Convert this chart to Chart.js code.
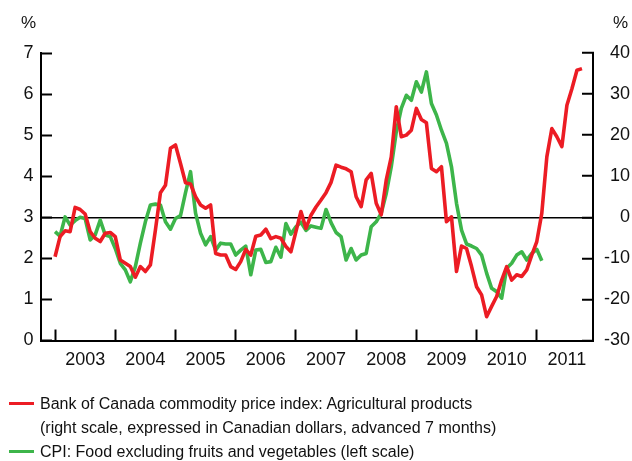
<!DOCTYPE html>
<html>
<head>
<meta charset="utf-8">
<script src="https://cdn.jsdelivr.net/npm/chart.js@4.4.1/dist/chart.umd.min.js"></script>
<style>
  body { margin: 0; background: #fff; font-family: "Liberation Sans", Arial, sans-serif; color: #111; }
  #caixa { position: relative; width: 632px; height: 461px; overflow: hidden; }
  #grafico { position: absolute; left: 0; top: 0; }
  .pct { position: absolute; font-size: 17px; line-height: 1; }
  .leg { position: absolute; left: 40px; font-size: 16px; line-height: 24px; white-space: nowrap; }
  .traco { position: absolute; left: 9px; width: 25px; height: 3px; }
</style>
</head>
<body>
<div id="caixa">
  <canvas id="grafico" width="632" height="394"></canvas>
  <span class="pct" style="left:21px; top:14px;">%</span>
  <span class="pct" style="left:613px; top:14px;">%</span>
  <div class="traco" style="top:402px; background:#ec1c24;"></div>
  <div class="leg" style="top:392px;">Bank of Canada commodity price index: Agricultural products<br>(right scale, expressed in Canadian dollars, advanced 7 months)</div>
  <div class="traco" style="top:450px; background:#3db54a;"></div>
  <div class="leg" style="top:440px;">CPI: Food excluding fruits and vegetables (left scale)</div>
</div>
<script>
// months counted from Jan 2003 (index 0)
const anos = ["2003", "2004", "2005", "2006", "2007", "2008", "2009", "2010", "2011"];

// Agricultural commodity price index, % (right scale), advanced 7 months
const indiceAgricola = [
  -9.6, -4.7, -3.3, -3.5, 2.4, 1.9, 0.8, -3.5, -5.1, -5.9, -3.9, -3.7,
  -4.7, -10.4, -11.2, -12.0, -14.6, -12.0, -13.2, -11.6, -3.1, 6.0, 7.8, 16.8,
  17.6, 13.1, 8.4, 8.1, 5.0, 3.0, 2.2, 3.0, -8.8, -9.2, -9.2, -12.0,
  -12.7, -10.8, -7.8, -9.2, -4.6, -4.3, -2.9, -5.2, -4.7, -5.1, -7.1, -8.4,
  -3.5, 1.4, -2.7, 0.5, 2.5, 4.2, 6.0, 8.5, 12.7, 12.2, 11.8, 11.1,
  5.0, 2.6, 9.1, 10.7, 3.4, 0.6, 9.1, 14.7, 26.9, 19.6, 20.0, 21.2,
  26.5, 23.8, 23.0, 11.9, 11.1, 12.3, -1.1, 0.1, -13.2, -7.0, -7.6, -12.0,
  -16.9, -18.9, -24.2, -21.7, -19.3, -15.3, -12.0, -15.3, -14.0, -14.4, -12.8, -9.2,
  -5.9, 1.0, 14.7, 21.6, 19.6, 17.2, 27.3, 31.3, 35.8, 36.2
];

// CPI food excluding fruits and vegetables, % (left scale)
const ipcAlimentos = [
  2.65, 2.54, 3.01, 2.81, 2.92, 3.0, 2.97, 2.45, 2.57, 2.93, 2.57, 2.53,
  2.24, 1.88, 1.72, 1.43, 1.80, 2.37, 2.89, 3.30, 3.32, 3.30, 2.89, 2.71,
  2.97, 3.04, 3.60, 4.11, 3.10, 2.61, 2.33, 2.53, 2.20, 2.37, 2.35, 2.35,
  2.08, 2.20, 2.30, 1.60, 2.20, 2.22, 1.90, 1.92, 2.27, 2.03, 2.85, 2.59,
  2.77, 2.88, 2.68, 2.79, 2.76, 2.73, 3.19, 2.87, 2.63, 2.53, 1.96, 2.24,
  1.96, 2.08, 2.12, 2.77, 2.89, 3.10, 3.58, 4.23, 5.08, 5.65, 5.97, 5.85,
  6.30, 6.05, 6.54, 5.77, 5.49, 5.12, 4.80, 4.23, 3.34, 2.69, 2.35, 2.30,
  2.24, 2.08, 1.64, 1.27, 1.19, 1.03, 1.76, 1.88, 2.08, 2.16, 1.96, 2.12,
  2.22, 1.94
];

const pontos = arr => arr.map((v, i) => ({ x: i, y: v }));
const fonteEixo = { family: "'Liberation Sans', Arial, sans-serif", size: 18 };

new Chart(document.getElementById("grafico").getContext("2d"), {
  type: "line",
  data: {
    datasets: [
      {
        label: "Bank of Canada commodity price index: Agricultural products",
        data: pontos(indiceAgricola),
        yAxisID: "yDir",
        borderColor: "#ec1c24",
        borderWidth: 3.6,
        pointRadius: 0,
        borderJoinStyle: "round",
        tension: 0
      },
      {
        label: "CPI: Food excluding fruits and vegetables",
        data: pontos(ipcAlimentos),
        yAxisID: "yEsq",
        borderColor: "#3db54a",
        borderWidth: 3.6,
        pointRadius: 0,
        borderJoinStyle: "round",
        tension: 0
      }
    ]
  },
  options: {
    responsive: false,
    animation: false,
    events: [],
    layout: { padding: { top: 53, left: 4, right: 2, bottom: 2 } },
    plugins: { legend: { display: false }, tooltip: { enabled: false } },
    scales: {
      x: {
        type: "linear",
        min: -2.8,
        max: 107.2,
        afterBuildTicks: escala => {
          const t = [];
          for (let k = 0; k < anos.length; k++) {
            t.push({ value: 12 * k });
            t.push({ value: 12 * k + 6 });
          }
          escala.ticks = t;
        },
        afterFit: escala => { escala.height = 51.5; },
        ticks: {
          autoSkip: false,
          maxRotation: 0,
          padding: 19.5,
          color: "#111",
          font: fonteEixo,
          callback: v => (v % 12 === 6 ? anos[(v - 6) / 12] : "")
        },
        grid: {
          drawOnChartArea: false,
          tickLength: -11,
          tickWidth: 2,
          tickColor: c => (c.tick && c.tick.value % 12 === 0 ? "#000" : "rgba(0,0,0,0)")
        },
        border: { color: "#000", width: 2 }
      },
      yEsq: {
        position: "left",
        min: 0,
        max: 7,
        afterFit: escala => { escala.width = 37; },
        ticks: { stepSize: 1, padding: 18.5, color: "#111", font: fonteEixo },
        grid: { drawOnChartArea: false, tickLength: -11, tickWidth: 2, tickColor: "#000" },
        border: { color: "#000", width: 2 }
      },
      yDir: {
        position: "right",
        min: -30,
        max: 40,
        afterFit: escala => { escala.width = 37; },
        ticks: { stepSize: 10, padding: 1.5, crossAlign: "far", color: "#111", font: fonteEixo },
        grid: {
          drawOnChartArea: true,
          color: c => (c.tick && c.tick.value === 0 ? "#000" : "rgba(0,0,0,0)"),
          lineWidth: 1.5,
          tickLength: -11,
          tickWidth: 2,
          tickColor: "#000"
        },
        border: { color: "#000", width: 2 }
      }
    }
  }
});
</script>
</body>
</html>
